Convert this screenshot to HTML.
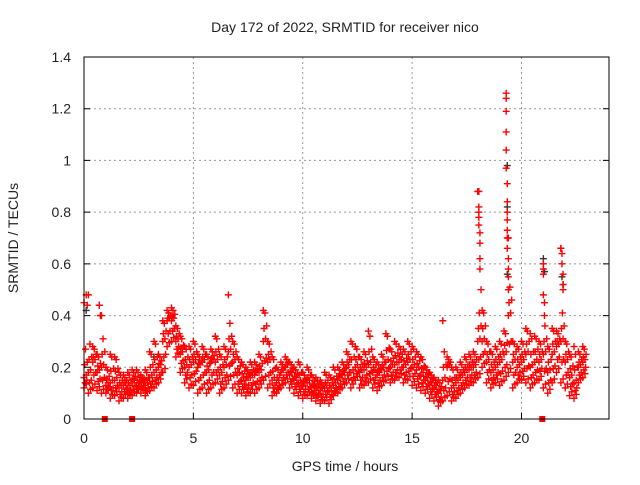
<!DOCTYPE html>
<html><head><meta charset="utf-8"><style>
body{margin:0;background:#fff}
text{font-family:"Liberation Sans",sans-serif;fill:#222}
</style></head><body>
<svg width="640" height="480" xmlns="http://www.w3.org/2000/svg">
<rect width="640" height="480" fill="#fff"/>
<g id="grid"></g>
<g id="marks"></g>
<rect x="84" y="57" width="525" height="362" fill="none" stroke="#000" stroke-width="1"/>
<g id="ticks"></g>
<text x="345" y="32" text-anchor="middle" font-size="14">Day 172 of 2022, SRMTID for receiver nico</text>
<text x="345" y="471" text-anchor="middle" font-size="14">GPS time / hours</text>
<text transform="translate(18,238) rotate(-90)" text-anchor="middle" font-size="14">SRMTID / TECUs</text>
</svg>
<script>
const times=[0,0.2,0.4,0.6,0.8,1,1.2,1.4,1.6,1.8,2,2.2,2.4,2.6,2.8,3,3.2,3.4,3.6,3.8,4,4.2,4.4,4.6,4.8,5,5.2,5.4,5.6,5.8,6,6.2,6.4,6.6,6.8,7,7.2,7.4,7.6,7.8,8,8.2,8.4,8.6,8.8,9,9.2,9.4,9.6,9.8,10,10.2,10.4,10.6,10.8,11,11.2,11.4,11.6,11.8,12,12.2,12.4,12.6,12.8,13,13.2,13.4,13.6,13.8,14,14.2,14.4,14.6,14.8,15,15.2,15.4,15.6,15.8,16,16.2,16.4,16.6,16.8,17,17.2,17.4,17.6,17.8,18,18.2,18.4,18.6,18.8,19,19.2,19.4,19.6,19.8,20,20.2,20.4,20.6,20.8,21,21.2,21.4,21.6,21.8,22,22.2,22.4,22.6,22.8];
const lowVals=[.12,.10,.12,.11,.10,.10,.08,.09,.07,.08,.08,.09,.10,.10,.09,.11,.12,.14,.18,.28,.30,.24,.18,.14,.12,.13,.10,.12,.10,.12,.14,.10,.12,.15,.12,.10,.10,.09,.10,.10,.12,.15,.12,.09,.10,.12,.14,.12,.10,.09,.08,.09,.08,.07,.06,.07,.06,.09,.10,.12,.14,.12,.15,.12,.13,.14,.12,.11,.13,.15,.14,.15,.16,.14,.15,.13,.12,.11,.10,.08,.07,.05,.07,.09,.07,.08,.10,.12,.13,.14,.16,.20,.14,.12,.14,.13,.15,.18,.12,.14,.15,.14,.12,.14,.15,.12,.10,.14,.18,.14,.12,.09,.08,.14,.16];
const midVals=[.16,.18,.22,.18,.20,.13,.14,.15,.12,.13,.12,.14,.13,.14,.13,.16,.18,.20,.30,.38,.38,.30,.25,.20,.20,.22,.20,.22,.18,.22,.22,.17,.20,.26,.22,.17,.15,.15,.16,.17,.18,.30,.22,.15,.14,.18,.20,.17,.15,.14,.13,.14,.12,.11,.11,.12,.11,.13,.15,.17,.20,.18,.20,.18,.19,.21,.18,.17,.19,.22,.20,.21,.22,.20,.22,.20,.19,.17,.15,.13,.12,.10,.15,.20,.12,.14,.16,.18,.19,.20,.30,.30,.22,.18,.20,.22,.25,.40,.22,.20,.22,.25,.20,.22,.22,.25,.18,.25,.28,.30,.22,.16,.14,.20,.22];
const highVals=[.45,.48,.28,.25,.40,.20,.25,.24,.18,.17,.18,.19,.19,.17,.19,.26,.30,.25,.38,.42,.43,.36,.32,.28,.28,.30,.25,.28,.25,.27,.32,.25,.28,.48,.30,.24,.22,.20,.22,.22,.25,.42,.30,.24,.20,.22,.24,.22,.20,.22,.18,.20,.17,.16,.15,.18,.17,.20,.20,.22,.26,.30,.28,.24,.26,.34,.24,.22,.25,.33,.27,.30,.28,.27,.30,.28,.26,.24,.20,.18,.16,.15,.38,.24,.20,.20,.22,.24,.25,.26,.88,.42,.30,.26,.28,.30,.34,.70,.30,.28,.30,.35,.33,.32,.30,.60,.28,.35,.34,.66,.30,.25,.28,.26,.28];
const spikeTimes=[18.05,18.05,18.05,18.05,18.05,18.1,18.1,18.1,18.1,18.15,19.3,19.3,19.3,19.3,19.3,19.3,19.35,19.35,19.35,19.35,19.35,19.35,19.35,19.4,19.4,19.4,19.4,21.0,21.0,21.0,21.05,21.05,21.8,21.85,21.85,21.9,21.9,21.9,0.1,0.15,0.7,0.75];
const spikeVals=[.88,.82,.80,.78,.75,.72,.68,.62,.58,.50,1.26,1.24,1.19,1.11,1.04,.97,.91,.84,.80,.77,.73,.70,.66,.62,.58,.55,.50,.58,.56,.48,.45,.40,.66,.64,.60,.56,.52,.50,.48,.44,.44,.40];
const blackTimes=[19.35,19.35,19.35,21.0,21.05,21.85,21.9,0.7,0.1,3.2,16.3];
const blackVals=[.98,.82,.56,.62,.57,.55,.52,.44,.42,.24,.07];
const gapTimes=[0.95,2.2,20.95];
const xTicks=[0,5,10,15,20];
const yTicks=[0,0.2,0.4,0.6,0.8,1,1.2,1.4];
const yTickLabels=["0","0.2","0.4","0.6","0.8","1","1.2","1.4"];

const NS="http://www.w3.org/2000/svg";
const X=t=>84+t*525/24, Y=v=>419-v*362/1.4;
const grid=document.getElementById('grid'),marks=document.getElementById('marks'),ticks=document.getElementById('ticks');
function mk(tag,attrs,parent){const e=document.createElementNS(NS,tag);for(const k in attrs)e.setAttribute(k,attrs[k]);parent.appendChild(e);return e;}
xTicks.forEach(t=>{
  if(t>0){const g=mk('line',{x1:X(t),x2:X(t),y1:57,y2:419,stroke:'#999','stroke-dasharray':'2,3'},grid);
  
  }
  const l=mk('line',{x1:X(t),x2:X(t),y1:419,y2:413,stroke:'#000'},ticks);
  
  
  const tx=mk('text',{x:X(t),y:443,'text-anchor':'middle','font-size':14},ticks);tx.textContent=t;
  
  
});
yTicks.forEach((v,i)=>{
  if(v>0&&v<1.4){const g=mk('line',{x1:84,x2:609,y1:Y(v),y2:Y(v),stroke:'#999','stroke-dasharray':'2,3'},grid);
  
  }
  const l=mk('path',{d:`M84 ${Y(v)}h6M609 ${Y(v)}h-6`,stroke:'#000'},ticks);
  
  
  const tx=mk('text',{x:71,y:Y(v)+5,'text-anchor':'end','font-size':14},ticks);tx.textContent=yTickLabels[i];
  
  
});
function plus(t,v,color,name){
  const x=X(t),y=Y(v);
  const p=mk('path',{d:`M${x-3.5} ${y}h7M${x} ${y-3.5}v7`,stroke:color,'stroke-width':1.4,fill:'none'},marks);
  
  
}
blackTimes.forEach((t,i)=>plus(t,blackVals[i],'#333','black-point'));
times.forEach((t,i)=>{
  const lo=lowVals[i],mi=midVals[i],hi=highVals[i];
  const hiC=Math.min(hi,mi+0.12);
  plus(t,lo,'#f00','srmtid-point');
  plus(t,mi,'#f00','srmtid-point');
  plus(t,hi,'#f00','srmtid-point');
  plus(t+0.05,(lo+mi)/2,'#f00','srmtid-point');
  plus(t+0.1,mi+0.01,'#f00','srmtid-point');
  plus(t+0.1,lo+0.015,'#f00','srmtid-point');
  plus(t+0.15,(mi+hiC)/2,'#f00','srmtid-point');
  plus(t+0.07,hiC-0.01,'#f00','srmtid-point');
  plus(t+0.13,(lo+mi)/2+0.01,'#f00','srmtid-point');
  plus(t+0.03,(mi+hiC)/2-0.01,'#f00','srmtid-point');
});
spikeTimes.forEach((t,i)=>plus(t,spikeVals[i],'#f00','spike-point'));
gapTimes.forEach(t=>{
  const r=mk('rect',{x:X(t)-3,y:416,width:6,height:6,fill:'#f00'},marks);
  
  
});
</script>
</body></html>
